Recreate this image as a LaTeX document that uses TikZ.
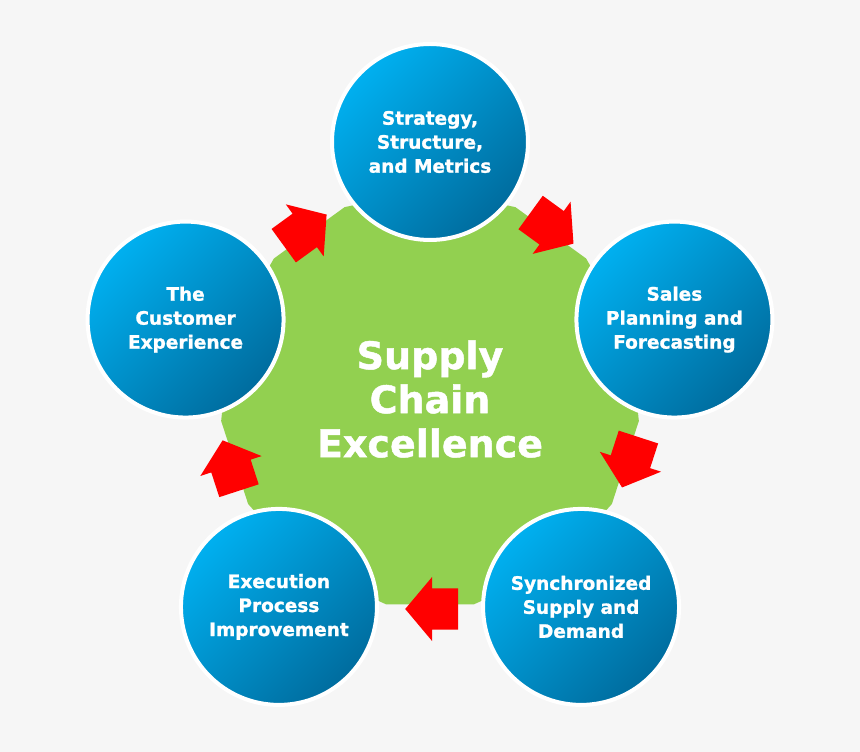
\documentclass[tikz,border=0pt]{standalone}
\usepackage{fontspec}
\setsansfont{DejaVu Sans}[BoldFeatures={FakeBold=1.2}]
\usetikzlibrary{shapes.geometric,shapes.arrows,calc}
\definecolor{scback}{RGB}{246,246,246}
\definecolor{scgreen}{RGB}{146,208,80}
\definecolor{sclight}{RGB}{0,176,240}
\definecolor{scdark}{RGB}{0,108,158}
\begin{document}
\begin{tikzpicture}[x=1pt, y=1pt]
      \tikzset{
  hub/.style={
    regular polygon,
    regular polygon sides=15,
    fill=scgreen,
    minimum size=420pt,
    inner sep=0pt
  },
  every topic/.style={
    circle,
    draw=white,
    line width=4pt,
    minimum size=196pt,
    top color=sclight,
    bottom color=scdark,
    shading angle=45,
    text=white,
    align=center,
    font=\sffamily\bfseries\fontsize{18.5}{24}\selectfont
  },
  flow arrow/.style={
    single arrow,
    fill=red,
    inner xsep=0pt,
    inner ysep=20.5pt,
    minimum height=53pt,
    single arrow head extend=11.5pt,
    single arrow tip angle=100,
    anchor=tip
  }
}

\useasboundingbox (0,0) rectangle (860,752);
\fill [scback] (0,0) rectangle (860,752);

\coordinate (centre) at (430,353);

\node [hub] (hub) at (centre) {};

\foreach \t [count=\i] in {{Strategy,\\Structure,\\and Metrics},
    {Sales\\Planning and\\Forecasting},
    {Synchronized\\Supply and\\Demand},
    {Execution\\Process\\Improvement},
    {The\\Customer\\Experience}}
  \node [every topic] (topic-\i) at ($(centre)+(90-72*\i+72:257)$) {\t};

% tip of each arrow, a little clockwise of the gap between two circles
\foreach \i in {1,...,5}
  \node [flow arrow, rotate=-36-72*\i+72] (arrow-\i) at ($(centre)+(47.2-72*\i+72:211.5)$) {};

\node [text=white, align=center, font=\sffamily\bfseries\fontsize{38}{44}\selectfont]
  (title) at (centre) {Supply\\Chain\\Excellence};
      \end{tikzpicture}
\end{document}
